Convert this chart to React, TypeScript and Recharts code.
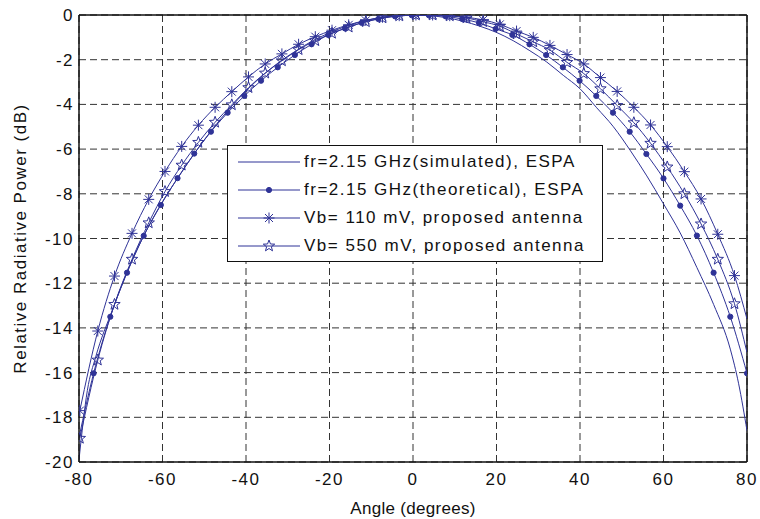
import { LineChart, Line, XAxis, YAxis, CartesianGrid, Legend, ReferenceLine } from "recharts"

const BLUE = "#2f3397"
const FONT = '"Liberation Sans", Arial, Helvetica, sans-serif'
const SPACING = "1.5px"

const angleTicks = [-80, -60, -40, -20, 0, 20, 40, 60, 80]
const powerTicks = [-20, -18, -16, -14, -12, -10, -8, -6, -4, -2, 0]

// fr=2.15 GHz (simulated), plain line
const simAngles = [-80, -78, -76, -72, -68, -64, -60, -56, -52, -48, -44, -40, -36, -32, -28, -24, -20, -16, -12, -8, -4, 0, 4, 8, 12, 16, 20, 24, 28, 32, 36, 40, 44, 48, 52, 56, 60, 64, 68, 72, 76, 78, 80]
const simPower = [-19.9, -16.8, -15.3, -13.2, -11.3, -9.7, -8.35, -7.2, -6.1, -5.1, -4.2, -3.4, -2.7, -2.1, -1.6, -1.15, -0.8, -0.5, -0.28, -0.12, -0.03, 0, -0.03, -0.12, -0.28, -0.5, -0.78, -1.15, -1.6, -2.1, -2.7, -3.3, -4.15, -5.0, -6.05, -7.2, -8.45, -9.75, -11.3, -12.95, -14.95, -16.5, -18.6]

// fr=2.15 GHz (theoretical), dot markers
const theoryAngles = [-76.5, -72.5, -68.5, -64.5, -60.4, -56.4, -52.4, -48.4, -44.4, -40.4, -36.4, -32.4, -28.3, -24.3, -20.3, -16.3, -12.3, -8.3, -4.3, -0.3, 3.8, 7.8, 11.8, 15.8, 19.8, 23.8, 27.9, 31.9, 35.9, 39.9, 43.9, 47.9, 51.9, 55.9, 60.0, 64.0, 68.0, 72.0, 76.0, 80.0]
const theoryPower = [-16.03, -13.5, -11.53, -9.88, -8.5, -7.3, -6.2, -5.22, -4.37, -3.62, -2.94, -2.34, -1.79, -1.31, -0.89, -0.6, -0.35, -0.18, -0.06, -0.01, -0.01, -0.06, -0.18, -0.35, -0.62, -0.89, -1.31, -1.79, -2.34, -2.94, -3.62, -4.37, -5.22, -6.22, -7.31, -8.53, -9.87, -11.53, -13.5, -16.03]
const theoryEdge = { x: -80, y: -18.9 }

// Vb = 110 mV and 550 mV share marker angles
const vbAngles = [-79.8, -75.5, -71.5, -67.3, -63.3, -59.4, -55.4, -51.4, -47.4, -43.4, -39.4, -35.4, -31.4, -27.4, -23.4, -19.4, -15.4, -11.3, -7.3, -3.3, 0.7, 4.7, 8.8, 12.8, 16.8, 20.8, 24.8, 28.8, 32.8, 36.9, 40.9, 44.9, 48.9, 52.9, 56.9, 60.9, 65.0, 69.0, 73.0, 77.0]
const vb110Power = [-17.7, -14.14, -11.68, -9.77, -8.25, -7.0, -5.88, -4.93, -4.13, -3.43, -2.77, -2.19, -1.74, -1.31, -0.97, -0.68, -0.44, -0.24, -0.1, -0.03, 0, 0, -0.03, -0.1, -0.22, -0.42, -0.72, -1.0, -1.36, -1.77, -2.19, -2.8, -3.42, -4.13, -4.92, -5.89, -7.01, -8.23, -9.81, -11.66]
const vb110Edge = { x: 80, y: -13.6 }
const vb550Power = [-18.94, -15.44, -12.95, -10.93, -9.3, -7.9, -6.72, -5.7, -4.8, -4.02, -3.25, -2.6, -2.05, -1.55, -1.15, -0.82, -0.54, -0.3, -0.13, -0.04, 0, 0, -0.04, -0.13, -0.3, -0.5, -0.85, -1.2, -1.57, -2.12, -2.62, -3.3, -4.05, -4.82, -5.74, -6.8, -8.0, -9.35, -10.93, -12.92]
const vb550Edge = { x: 80, y: -15.1 }

const legendLabels = [
  "fr=2.15 GHz(simulated), ESPA",
  "fr=2.15 GHz(theoretical), ESPA",
  "Vb= 110 mV, proposed antenna",
  "Vb= 550 mV, proposed antenna",
]

type Pt = { x: number; y: number; m?: boolean }

const zip = (xs: number[], ys: number[], m: boolean): Pt[] => xs.map((x, i) => ({ x, y: ys[i], m }))

const simData = zip(simAngles, simPower, false)
const theoryData = [{ ...theoryEdge, m: false }, ...zip(theoryAngles, theoryPower, true)]
const vb110Data = [...zip(vbAngles, vb110Power, true), { ...vb110Edge, m: false }]
const vb550Data = [...zip(vbAngles, vb550Power, true), { ...vb550Edge, m: false }]

function DotMark({ cx, cy }: { cx: number; cy: number }) {
  return <circle cx={cx} cy={cy} r={2.6} fill={BLUE} stroke={BLUE} />
}

function AsteriskMark({ cx, cy }: { cx: number; cy: number }) {
  const s = 5.5
  const d = 4
  return (
    <g stroke={BLUE} strokeWidth={1}>
      <line x1={cx - s} y1={cy} x2={cx + s} y2={cy} />
      <line x1={cx} y1={cy - s} x2={cx} y2={cy + s} />
      <line x1={cx - d} y1={cy - d} x2={cx + d} y2={cy + d} />
      <line x1={cx - d} y1={cy + d} x2={cx + d} y2={cy - d} />
    </g>
  )
}

function StarMark({ cx, cy }: { cx: number; cy: number }) {
  const pts: string[] = []
  for (let i = 0; i < 10; i++) {
    const r = i % 2 === 0 ? 6 : 2.5
    const a = -Math.PI / 2 + (i * Math.PI) / 5
    pts.push(`${cx + r * Math.cos(a)},${cy + r * Math.sin(a)}`)
  }
  return <polygon points={pts.join(" ")} fill="none" stroke={BLUE} strokeWidth={1} />
}

const marker = (Mark: typeof DotMark) => (props: any) => {
  const { cx, cy, payload, index } = props
  if (!payload?.m || cx == null || cy == null) return <g key={`e-${index}`} />
  return (
    <g key={`m-${index}`}>
      <Mark cx={cx} cy={cy} />
    </g>
  )
}

const legendMarks = [null, DotMark, AsteriskMark, StarMark]

function LegendBox() {
  return (
    <div
      style={{
        width: 376,
        height: 117,
        boxSizing: "border-box",
        border: "1.5px solid #111",
        background: "#fff",
        paddingTop: 2,
        fontFamily: FONT,
        fontSize: 17,
        letterSpacing: SPACING,
        color: "#111",
      }}
    >
      {legendLabels.map((label, i) => {
        const Mark = legendMarks[i]
        return (
          <div key={label} style={{ display: "flex", alignItems: "center", height: 28 }}>
            <svg width={76} height={28} style={{ flex: "none" }}>
              <line x1={10} x2={72} y1={14} y2={14} stroke={BLUE} strokeWidth={1} />
              {Mark && <Mark cx={41} cy={14} />}
            </svg>
            <span style={{ whiteSpace: "nowrap" }}>{label}</span>
          </div>
        )
      })}
    </div>
  )
}

const textStyle = { fontFamily: FONT, fontSize: 17, fill: "#111", letterSpacing: SPACING }

export default function App() {
  return (
    <div style={{ position: "absolute", left: 0, top: 0, width: 760, height: 519, background: "#fff" }}>
      <LineChart width={760} height={519} margin={{ top: 15, right: 13, left: 0, bottom: 0 }}>
        <CartesianGrid stroke="#333" strokeDasharray="7 4" />
        <XAxis
          type="number"
          dataKey="x"
          domain={[-80, 80]}
          ticks={angleTicks}
          allowDataOverflow
          height={57}
          tickLine={false}
          tickSize={0}
          tickMargin={11}
          tick={textStyle}
          axisLine={{ stroke: "#111", strokeWidth: 1.5 }}
          label={{ value: "Angle (degrees)", position: "insideBottom", offset: 5, style: { ...textStyle, letterSpacing: "0.3px" } }}
        />
        <YAxis
          type="number"
          dataKey="y"
          domain={[-20, 0]}
          ticks={powerTicks}
          allowDataOverflow
          width={79}
          tickLine={false}
          tickSize={0}
          tickMargin={5}
          tick={textStyle}
          axisLine={{ stroke: "#111", strokeWidth: 1.5 }}
          label={{
            value: "Relative Radiative Power (dB)",
            angle: -90,
            position: "insideLeft",
            offset: 20,
            style: { ...textStyle, textAnchor: "middle" },
          }}
        />
        <ReferenceLine y={0} stroke="#111" strokeWidth={1.5} />
        <ReferenceLine x={80} stroke="#111" strokeWidth={1.5} />
        <Legend
          layout="vertical"
          align="center"
          verticalAlign="middle"
          content={() => <LegendBox />}
          wrapperStyle={{ position: "absolute", left: 227, top: 145, width: 376, height: 117 }}
        />
        <Line data={simData} dataKey="y" type="monotone" stroke={BLUE} strokeWidth={1} dot={false} activeDot={false} isAnimationActive={false} legendType="none" />
        <Line data={theoryData} dataKey="y" type="monotone" stroke={BLUE} strokeWidth={1} dot={marker(DotMark)} activeDot={false} isAnimationActive={false} legendType="none" />
        <Line data={vb110Data} dataKey="y" type="monotone" stroke={BLUE} strokeWidth={1} dot={marker(AsteriskMark)} activeDot={false} isAnimationActive={false} legendType="none" />
        <Line data={vb550Data} dataKey="y" type="monotone" stroke={BLUE} strokeWidth={1} dot={marker(StarMark)} activeDot={false} isAnimationActive={false} legendType="none" />
      </LineChart>
    </div>
  )
}
